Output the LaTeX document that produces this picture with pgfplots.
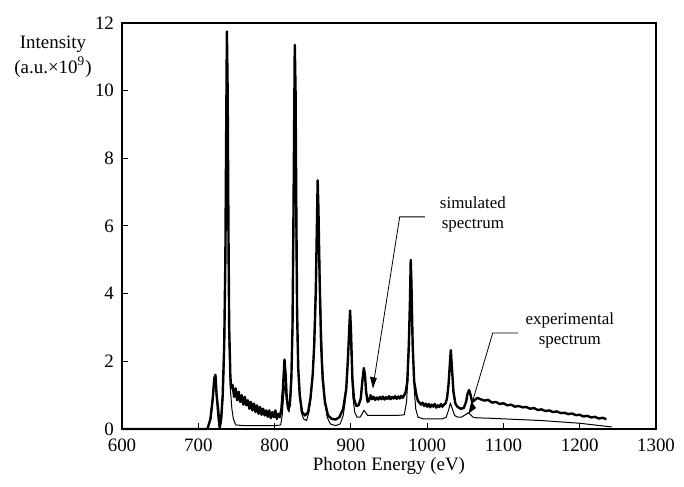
\documentclass[border=0pt]{standalone}
\usepackage{fontspec}
\setmainfont{Liberation Serif}
\usepackage{pgfplots}
\pgfplotsset{compat=1.18}
\usetikzlibrary{arrows.meta}

\begin{document}
\begin{tikzpicture}
\useasboundingbox (-61bp,-29bp) rectangle (281bp,214.5bp);
\begin{axis}[
  scale only axis,
  width=267bp, height=203bp,
  xmin=600, xmax=1300, ymin=0, ymax=12,
  xtick={600,700,...,1300}, ytick={0,2,...,12},
  tick align=inside, xtick pos=bottom, ytick pos=left,
  major tick length=3bp,
  axis line style={line width=0.7bp},
  tick style={line width=0.5bp, black},
  tick label style={font=\fontsize{9.5}{11}\selectfont},
  xticklabel style={yshift=-1.5bp},
  yticklabel style={xshift=-0.5bp},
  /pgf/number format/assume math mode=true,
  /pgf/number format/1000 sep={},
  xlabel={Photon Energy (eV)},
  xlabel style={font=\fontsize{9.5}{11}\selectfont, yshift=4bp},
  clip=false,
]

% thick trace
\addplot[black, line width=1.2bp, line join=round] coordinates {
  (600,0) (712,0) (716,0.3) (719,0.9) (721,1.5) (722.5,1.6) (724,1.0) (726,0.6)
  (728,0.05) (730,0.3) (732,1.0) (734,2.5) (735.5,5) (736.5,8.5) (737.5,11.75)
  (738.5,10) (739.5,6) (740.5,3) (742,1.6) (743,1.2) (745,1.3) (747,0.95) (749,1.2)
  (751,0.85) (753,1.1) (755,0.8) (757,1.0) (759,0.72) (761,0.95) (763,0.7) (765,0.85)
  (767,0.6) (769,0.8) (771,0.55) (773,0.75) (775,0.5) (777,0.7) (779,0.45) (781,0.65)
  (783,0.42) (785,0.6) (787,0.4) (789,0.55) (791,0.36) (793,0.55) (795,0.32) (797,0.5)
  (799,0.35) (801,0.55) (803,0.3) (805,0.45) (807,0.35) (809,0.6) (811,1.2) (813,2.05)
  (814.5,1.6) (816,0.9) (818,0.6) (820,0.7) (822,1.5) (823.5,3) (824.5,5.5) (825.5,8.5)
  (826.5,11.35) (827.5,10) (828.5,6.5) (829.5,3.5) (831,1.8) (833,1.0) (836,0.5)
  (840,0.4) (844,0.5) (847,0.9) (850,1.6) (852,2.5) (854,4) (855.5,6) (856.5,7.35)
  (857.5,6.5) (859,4.5) (861,2.5) (863,1.5) (866,0.8) (870,0.4) (875,0.3) (880,0.28)
  (885,0.35) (890,0.6) (894,1.2) (896,2) (898,3.0) (899,3.5) (900,3.0) (902,1.5)
  (904,0.9) (907,0.68) (910,0.7) (913,0.9) (915,1.4) (917,1.8) (918.5,1.6) (920,1.1)
  (922,0.8) (924,0.85) (926,1.0) (928,0.88) (930,0.95) (932,0.86) (934,0.93) (936,0.87)
  (938,0.95) (940,0.88) (942,0.96) (944,0.87) (946,0.94) (948,0.89) (950,0.97) (952,0.88)
  (954,0.95) (956,0.9) (958,0.97) (960,0.89) (962,0.96) (964,0.9) (966,0.98) (968,0.92)
  (970,1.0) (972,1.1) (974,1.4) (976,2.5) (977.5,3.8) (978.5,5.0) (979.5,4.2) (981,2.5)
  (983,1.4) (986,1.0) (988,0.82) (990,0.78) (992,0.72) (994,0.78) (996,0.68) (998,0.75)
  (1000,0.66) (1002,0.74) (1004,0.64) (1006,0.72) (1008,0.66) (1010,0.74) (1012,0.63)
  (1014,0.7) (1016,0.65) (1018,0.74) (1020,0.66) (1022,0.72) (1024,0.75) (1026,0.9)
  (1028,1.3) (1030,2.0) (1031,2.33) (1032.5,1.8) (1034.5,1.1) (1037,0.75) (1040,0.65)
  (1044,0.6) (1048,0.62) (1051,0.8) (1053,1.05) (1055,1.15) (1057,1.0) (1059,0.8)
  (1062,0.85) (1066,0.92) (1070,0.88) (1075,0.84) (1080,0.86) (1085,0.78) (1090,0.8)
  (1095,0.74) (1100,0.76) (1105,0.7) (1110,0.72) (1115,0.66) (1120,0.68) (1125,0.64)
  (1130,0.65) (1135,0.6) (1140,0.62) (1145,0.56) (1150,0.58) (1155,0.53) (1160,0.55)
  (1165,0.5) (1170,0.52) (1175,0.47) (1180,0.48) (1185,0.44) (1190,0.46) (1195,0.41)
  (1200,0.42) (1205,0.37) (1210,0.39) (1215,0.34) (1220,0.36) (1225,0.31) (1230,0.33)
  (1235,0.29)
};

% thin trace
\addplot[black, line width=0.5bp, line join=round] coordinates {
  (600,0) (712,0) (715,0.2) (718,0.8) (720,1.3) (722,1.6) (723.5,1.2) (725,0.5)
  (727,0.1) (728.5,0) (730,0.2) (732,0.8) (734,2) (735.5,4.5) (736.5,8) (737.5,10.8)
  (738.5,9) (739.5,5) (740.5,2.5) (742,1.2) (744,0.6) (746,0.3) (749,0.12) (760,0.1)
  (800,0.1) (808,0.12) (810,0.4) (812,1.0) (813.5,1.3) (815,1.0) (817,0.6) (819,0.5)
  (821,0.9) (823,2) (824.5,4.5) (825.5,7.5) (826.5,10) (827.5,8.5) (828.5,5) (830,2.5)
  (832,1.2) (835,0.5) (838,0.3) (842,0.25) (845,0.5) (848,1.0) (851,2.0) (853.5,4)
  (855.5,6.0) (857,6.4) (858.5,5.5) (860.5,3.5) (863,1.8) (866,0.8) (869,0.35)
  (873,0.15) (880,0.1) (886,0.15) (890,0.4) (893,0.9) (895.5,1.8) (897.5,2.6) (899,2.8)
  (900.5,2.2) (902.5,1.0) (905,0.5) (908,0.35) (912,0.35) (915,0.45) (917,0.55)
  (919,0.5) (922,0.4) (930,0.4) (960,0.4) (970,0.42) (973,0.8) (975,1.6) (977,3)
  (978.5,4.7) (979.5,4.5) (981,2.8) (983,1.2) (985,0.6) (988,0.35) (995,0.3) (1020,0.3)
  (1025,0.35) (1028,0.55) (1030.5,0.77) (1033,0.6) (1036,0.4) (1040,0.35) (1045,0.35)
  (1050,0.42) (1054,0.48) (1057,0.42) (1060,0.35) (1065,0.33) (1080,0.32) (1100,0.3)
  (1150,0.25) (1200,0.17) (1242,0.06)
};

% annotations
\draw[line width=0.4bp] (axis cs:997,6.27) -- (axis cs:964,6.27) -- (axis cs:929,1.24);
\fill (axis cs:929,1.2) -- (axis cs:925,1.55) -- (axis cs:934,1.5) -- cycle;
\node[align=center, font=\fontsize{8.5}{10}\selectfont] at (axis cs:1060,6.35)
  {simulated\\spectrum};

\draw[line width=0.4bp] (axis cs:1119,2.84) -- (axis cs:1086,2.84) -- (axis cs:1055,0.47);
\fill (axis cs:1054,0.45) -- (axis cs:1058,0.82) -- (axis cs:1064,0.62) -- cycle;
\node[align=center, font=\fontsize{8.5}{10}\selectfont] at (axis cs:1187,2.9)
  {experimental\\spectrum};

\node[align=center, font=\fontsize{9.5}{12.5}\selectfont, anchor=north]
  at (rel axis cs:0,1) [xshift=-34.5bp, yshift=-3bp] {Intensity\\(a.u.×10\textsuperscript{9})};
\end{axis}
\end{tikzpicture}
\end{document}
